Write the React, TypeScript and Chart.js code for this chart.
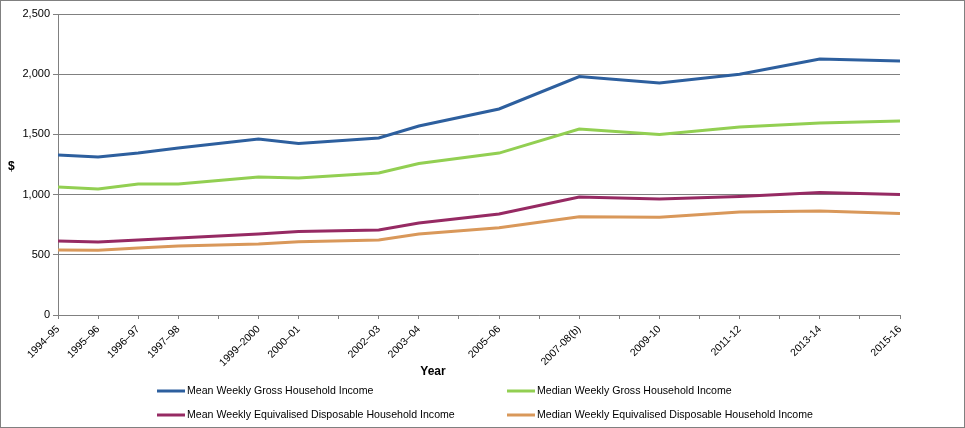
import React, { useEffect, useRef } from "react";
import { Chart, registerables } from "chart.js";

Chart.register(...registerables);

const years = [1994, 1995, 1996, 1997, 1999, 2000, 2002, 2003, 2005, 2007, 2009, 2011, 2013, 2015];
const yearLabels = ["1994–95", "1995–96", "1996–97", "1997–98", "1999–2000", "2000–01", "2002–03", "2003–04", "2005–06", "2007-08(b)", "2009-10", "2011-12", "2013-14", "2015-16"];

const meanGross = [1329, 1312, 1345, 1387, 1462, 1425, 1470, 1570, 1711, 1981, 1927, 2000, 2126, 2109];
const medianGross = [1063, 1046, 1088, 1088, 1146, 1138, 1179, 1258, 1345, 1545, 1499, 1561, 1595, 1611];
const meanEquiv = [615, 606, 623, 640, 673, 694, 706, 764, 839, 980, 963, 984, 1017, 1001];
const medianEquiv = [540, 538, 556, 573, 590, 609, 623, 673, 725, 816, 811, 855, 864, 843];

const seriesNames = [
  "Mean Weekly Gross Household Income",
  "Median Weekly Gross Household Income",
  "Mean Weekly Equivalised Disposable Household Income",
  "Median Weekly Equivalised Disposable Household Income",
];
const seriesColors = ["#2D5F9E", "#92CF52", "#962A63", "#D9985A"];

const FONT = "'Liberation Sans', Arial, sans-serif";

const decorPlugin = {
  id: "decor",
  afterDraw(chart: any) {
    const ctx = chart.ctx;
    ctx.save();
    // outer frame
    ctx.strokeStyle = "#808080";
    ctx.lineWidth = 1;
    ctx.strokeRect(0.5, 0.5, 964, 427);
    // $ title
    ctx.fillStyle = "#000";
    ctx.font = `bold 12px ${FONT}`;
    ctx.textAlign = "left";
    ctx.textBaseline = "middle";
    ctx.fillText("$", 8, 167);
    // Year title
    ctx.textAlign = "center";
    ctx.fillText("Year", 433, 372);
    // legend
    const cols = [157, 507];
    const rows = [391, 415];
    ctx.font = `10.6px ${FONT}`;
    ctx.textAlign = "left";
    chart.data.datasets.forEach((ds: any, i: number) => {
      const x = cols[i % 2];
      const y = rows[Math.floor(i / 2)];
      ctx.strokeStyle = ds.borderColor;
      ctx.lineWidth = 3;
      ctx.beginPath();
      ctx.moveTo(x, y);
      ctx.lineTo(x + 28, y);
      ctx.stroke();
      ctx.fillStyle = "#000";
      ctx.fillText(ds.label, x + 30, y);
    });
    ctx.restore();
  },
};

export default function App() {
  const ref = useRef<HTMLCanvasElement>(null);
  useEffect(() => {
    if (!ref.current) return;
    const all = [meanGross, medianGross, meanEquiv, medianEquiv];
    const labelMap: Record<number, string> = {};
    years.forEach((y, i) => (labelMap[y] = yearLabels[i]));
    const chart = new Chart(ref.current, {
      type: "line",
      data: {
        datasets: all.map((vals, i) => ({
          label: seriesNames[i],
          data: years.map((y, j) => ({ x: y, y: vals[j] })),
          borderColor: seriesColors[i],
          backgroundColor: seriesColors[i],
          borderWidth: 3,
          pointRadius: 0,
          tension: 0,
          fill: false,
        })),
      },
      options: {
        animation: false,
        responsive: false,
        maintainAspectRatio: false,
        layout: { padding: { left: 0, right: 65, top: 14, bottom: 0 } },
        plugins: { legend: { display: false }, tooltip: { enabled: false } },
        scales: {
          x: {
            type: "linear",
            min: 1994,
            max: 2015,
            afterFit: (s: any) => { s.height = 113; },
            border: { color: "#808080", width: 1 },
            grid: { drawOnChartArea: false, drawTicks: true, tickLength: 4, color: "#808080" },
            ticks: {
              stepSize: 1,
              autoSkip: false,
              minRotation: 45,
              maxRotation: 45,
              padding: 4,
              color: "#000",
              font: { family: FONT, size: 10.5 },
              callback: (v: any) => labelMap[v as number] ?? "",
            },
          },
          y: {
            min: 0,
            max: 2500,
            afterFit: (s: any) => { s.width = 58; },
            border: { color: "#808080", width: 1 },
            grid: { color: "#808080", tickLength: 5, drawTicks: true },
            ticks: {
              stepSize: 500,
              padding: 3,
              color: "#000",
              font: { family: FONT, size: 11 },
              callback: (v: any) => Number(v).toLocaleString("en-US"),
            },
          },
        },
      },
      plugins: [decorPlugin],
    } as any);
    return () => chart.destroy();
  }, []);
  return (
    <div style={{ position: "fixed", left: 0, top: 0, width: 965, height: 428, background: "#fff" }}>
      <canvas ref={ref} width={965} height={428} style={{ display: "block", width: 965, height: 428 }} />
    </div>
  );
}
